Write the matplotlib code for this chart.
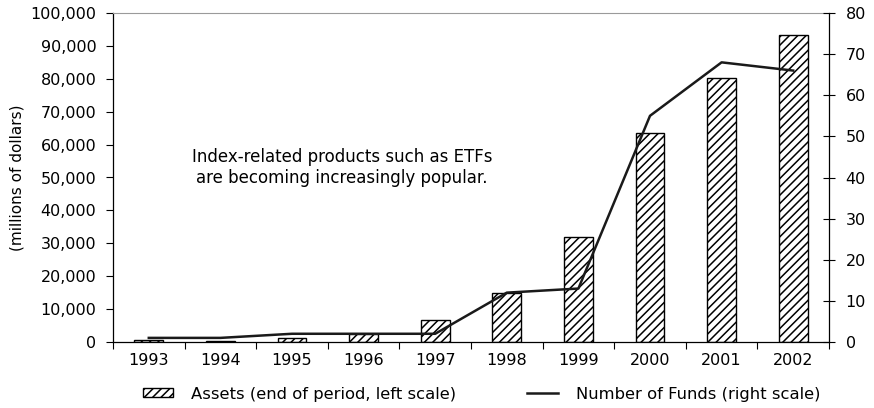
import numpy as np
import matplotlib
matplotlib.use("Agg")
import matplotlib.pyplot as plt
from matplotlib.patches import Patch
from matplotlib.lines import Line2D
from matplotlib.ticker import StrMethodFormatter

# data
years = ["1993", "1994", "1995", "1996", "1997", "1998", "1999", "2000", "2001", "2002"]
assets = [480, 430, 1100, 2400, 6600, 14800, 32000, 63600, 80100, 93200]   # millions of dollars
num_funds = [1, 1, 2, 2, 2, 12, 13, 55, 68, 66]

note = "Index-related products such as ETFs\nare becoming increasingly popular."

plt.rcParams['font.family'] = ['DejaVu Sans']
plt.rcParams['hatch.linewidth'] = 1.1
plt.rcParams['hatch.color'] = 'black'

W, H = 874, 408
fig = plt.figure(figsize=(W / 100, H / 100), dpi=100)
ax = fig.add_axes([113 / W, 1 - 342 / H, (829 - 113) / W, (342 - 13) / H])
ax2 = ax.twinx()

x = np.arange(len(years))
ax.bar(x, assets, width=0.4, color='white', edgecolor='black', linewidth=1.0,
       hatch='////', zorder=2)
ax2.plot(x, num_funds, '-', color='#1a1a1a', linewidth=1.8, zorder=3)

# left axis
ax.set_xlim(-0.5, len(years) - 0.5)
ax.set_ylim(0, 100000)
ax.set_yticks(np.arange(0, 100001, 10000))
ax.yaxis.set_major_formatter(StrMethodFormatter('{x:,.0f}'))
ax.tick_params(axis='y', direction='out', length=5, width=0.8, pad=7, labelsize=11.5)
ax.set_ylabel('(millions of dollars)', fontsize=11, labelpad=4)

# x axis: labels at centers, ticks between categories
ax.set_xticks(x)
ax.set_xticklabels(years, fontsize=11.5)
ax.set_xticks(np.arange(-0.5, len(years), 1.0), minor=True)
ax.tick_params(axis='x', which='major', length=0, pad=8)
ax.tick_params(axis='x', which='minor', direction='out', length=5, width=0.8)

# right axis
ax2.set_ylim(0, 80)
ax2.set_yticks(np.arange(0, 81, 10))
ax2.tick_params(axis='y', direction='inout', length=8, width=0.8, pad=8, labelsize=11.5)

for s in ['left', 'bottom']:
    ax.spines[s].set_color('black')
    ax.spines[s].set_linewidth(0.9)
ax.spines['right'].set_visible(False)
ax.spines['top'].set_color('#9a9a9a')
ax.spines['top'].set_linewidth(0.8)
ax2.spines['left'].set_visible(False)
ax2.spines['bottom'].set_visible(False)
ax2.spines['top'].set_visible(False)
ax2.spines['right'].set_color('black')
ax2.spines['right'].set_linewidth(0.9)

ax.text(2.70, 53000, note, ha='center', va='center', fontsize=12,
        linespacing=1.2, multialignment='center')

# legend, two separate entries along the bottom
h1 = Patch(facecolor='white', edgecolor='black', hatch='////', linewidth=1.0)
h2 = Line2D([], [], color='#1a1a1a', linewidth=1.8)
fig.legend([h1], ['Assets (end of period, left scale)'], loc='center left',
           bbox_to_anchor=(143 / W, 1 - 394 / H), frameon=False, fontsize=11.8,
           borderpad=0, borderaxespad=0, handlelength=1.8, handleheight=0.5,
           handletextpad=1.1)
fig.legend([h2], ['Number of Funds (right scale)'], loc='center left',
           bbox_to_anchor=(527 / W, 1 - 394 / H), frameon=False, fontsize=11.8,
           borderpad=0, borderaxespad=0, handlelength=1.9, handletextpad=1.1)

fig.savefig('out.png', dpi=100)
